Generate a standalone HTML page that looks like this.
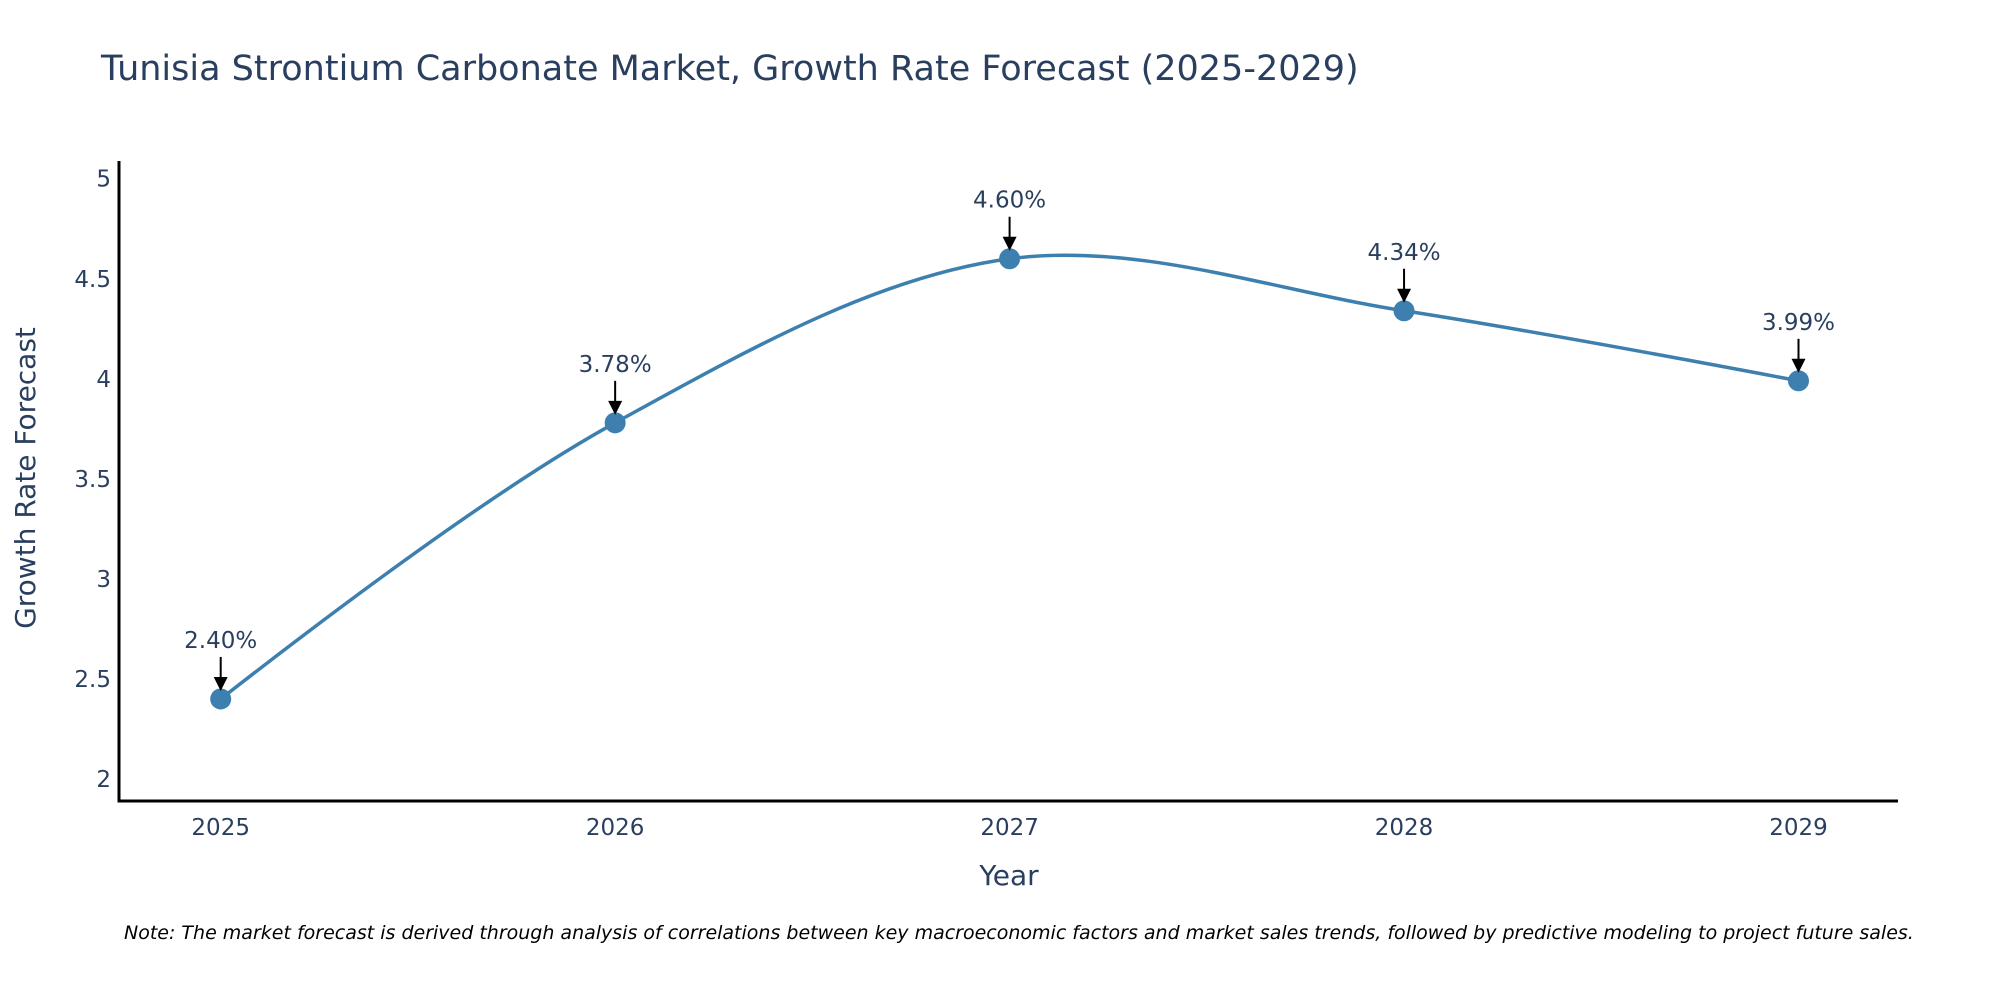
<!DOCTYPE html>
<html><head><meta charset="utf-8">
<style>
html,body{margin:0;padding:0;background:#fff;overflow:hidden;}
svg{display:block;font-family:"DejaVu Sans","Liberation Sans",sans-serif;}
</style></head>
<body>
<svg id="chart" width="2000" height="1000" viewBox="0 0 2000 1000">
<text x="101" y="80" font-size="35" fill="#2a3f5f">Tunisia Strontium Carbonate Market, Growth Rate Forecast (2025-2029)</text>
<g id="yticks"></g>
<g id="xticks"></g>
<line x1="119" y1="161" x2="119" y2="802" stroke="#000" stroke-width="3"/>
<line x1="117.5" y1="801" x2="1898" y2="801" stroke="#000" stroke-width="3"/>
<path id="line" fill="none" stroke="#3d80b0" stroke-width="3.5"/>
<g id="points"></g>
<text x="1009" y="885" font-size="28" fill="#2a3f5f" text-anchor="middle">Year</text>
<text transform="translate(35,478) rotate(-90)" font-size="28" fill="#2a3f5f" text-anchor="middle">Growth Rate Forecast</text>
<text x="124" y="939" font-size="19" font-style="italic" fill="#000">Note: The market forecast is derived through analysis of correlations between key macroeconomic factors and market sales trends, followed by predictive modeling to project future sales.</text>
</svg>
<script>
const years = [2025, 2026, 2027, 2028, 2029];
const growth = [2.40, 3.78, 4.60, 4.34, 3.99];
const yTicks = [2, 2.5, 3, 3.5, 4, 4.5, 5];

const NS = "http://www.w3.org/2000/svg";
function xs(v){ return 220.7 + (v - 2025) * 394.45; }
function ys(v){ return 779 - (v - 2) * 200.1; }
function mk(tag, attrs, parent){ const e = document.createElementNS(NS, tag); for (const k in attrs) e.setAttribute(k, attrs[k]); parent.appendChild(e); return e; }

const yg = document.getElementById('yticks');
yTicks.forEach(t => {
  const e = mk('text', {x: 111, y: ys(t) + 8, 'font-size': 23, fill: '#2a3f5f', 'text-anchor': 'end'}, yg);
  
  
  e.textContent = String(t);
});
const xg = document.getElementById('xticks');
years.forEach(y => {
  const e = mk('text', {x: xs(y), y: 835, 'font-size': 23, fill: '#2a3f5f', 'text-anchor': 'middle'}, xg);
  
  
  e.textContent = String(y);
});

const pts = years.map((y, i) => [xs(y), ys(growth[i])]);
function tangent(p, t, n, s){
  const d1x = p[0]-t[0], d1y = p[1]-t[1], d2x = n[0]-t[0], d2y = n[1]-t[1];
  const d1a = Math.pow(d1x*d1x + d1y*d1y, 0.25), d2a = Math.pow(d2x*d2x + d2y*d2y, 0.25);
  const numx = (d2a*d2a*d1x - d1a*d1a*d2x) * s, numy = (d2a*d2a*d1y - d1a*d1a*d2y) * s;
  const den1 = 3*d2a*(d1a+d2a), den2 = 3*d1a*(d1a+d2a);
  return [[t[0] + (den1 && numx/den1), t[1] + (den1 && numy/den1)], [t[0] - (den2 && numx/den2), t[1] - (den2 && numy/den2)]];
}
const tans = [];
for (let i = 1; i < pts.length - 1; i++) tans.push(tangent(pts[i-1], pts[i], pts[i+1], 1));
const P = p => p[0].toFixed(2) + ',' + p[1].toFixed(2);
let d = 'M' + P(pts[0]) + 'Q' + P(tans[0][0]) + ' ' + P(pts[1]);
for (let i = 2; i < pts.length - 1; i++) d += 'C' + P(tans[i-2][1]) + ' ' + P(tans[i-1][0]) + ' ' + P(pts[i]);
d += 'Q' + P(tans[pts.length-3][1]) + ' ' + P(pts[pts.length-1]);
document.getElementById('line').setAttribute('d', d);

const pg = document.getElementById('points');
pts.forEach((p, i) => {
  const c = mk('circle', {cx: p[0], cy: p[1], r: 10.5, fill: '#3d80b0'}, pg);
  
  
  const l = mk('line', {x1: p[0], y1: p[1] - 42, x2: p[0], y2: p[1] - 20, stroke: '#000', 'stroke-width': 2}, pg);
  
  
  const a = mk('polygon', {points: (p[0]-7)+','+(p[1]-22)+' '+(p[0]+7)+','+(p[1]-22)+' '+p[0]+','+(p[1]-8), fill: '#000'}, pg);
  
  
  const t = mk('text', {x: p[0], y: p[1] - 51, 'font-size': 23, fill: '#2a3f5f', 'text-anchor': 'middle'}, pg);
  
  
  t.textContent = growth[i].toFixed(2) + '%';
});
</script>
</body></html>
